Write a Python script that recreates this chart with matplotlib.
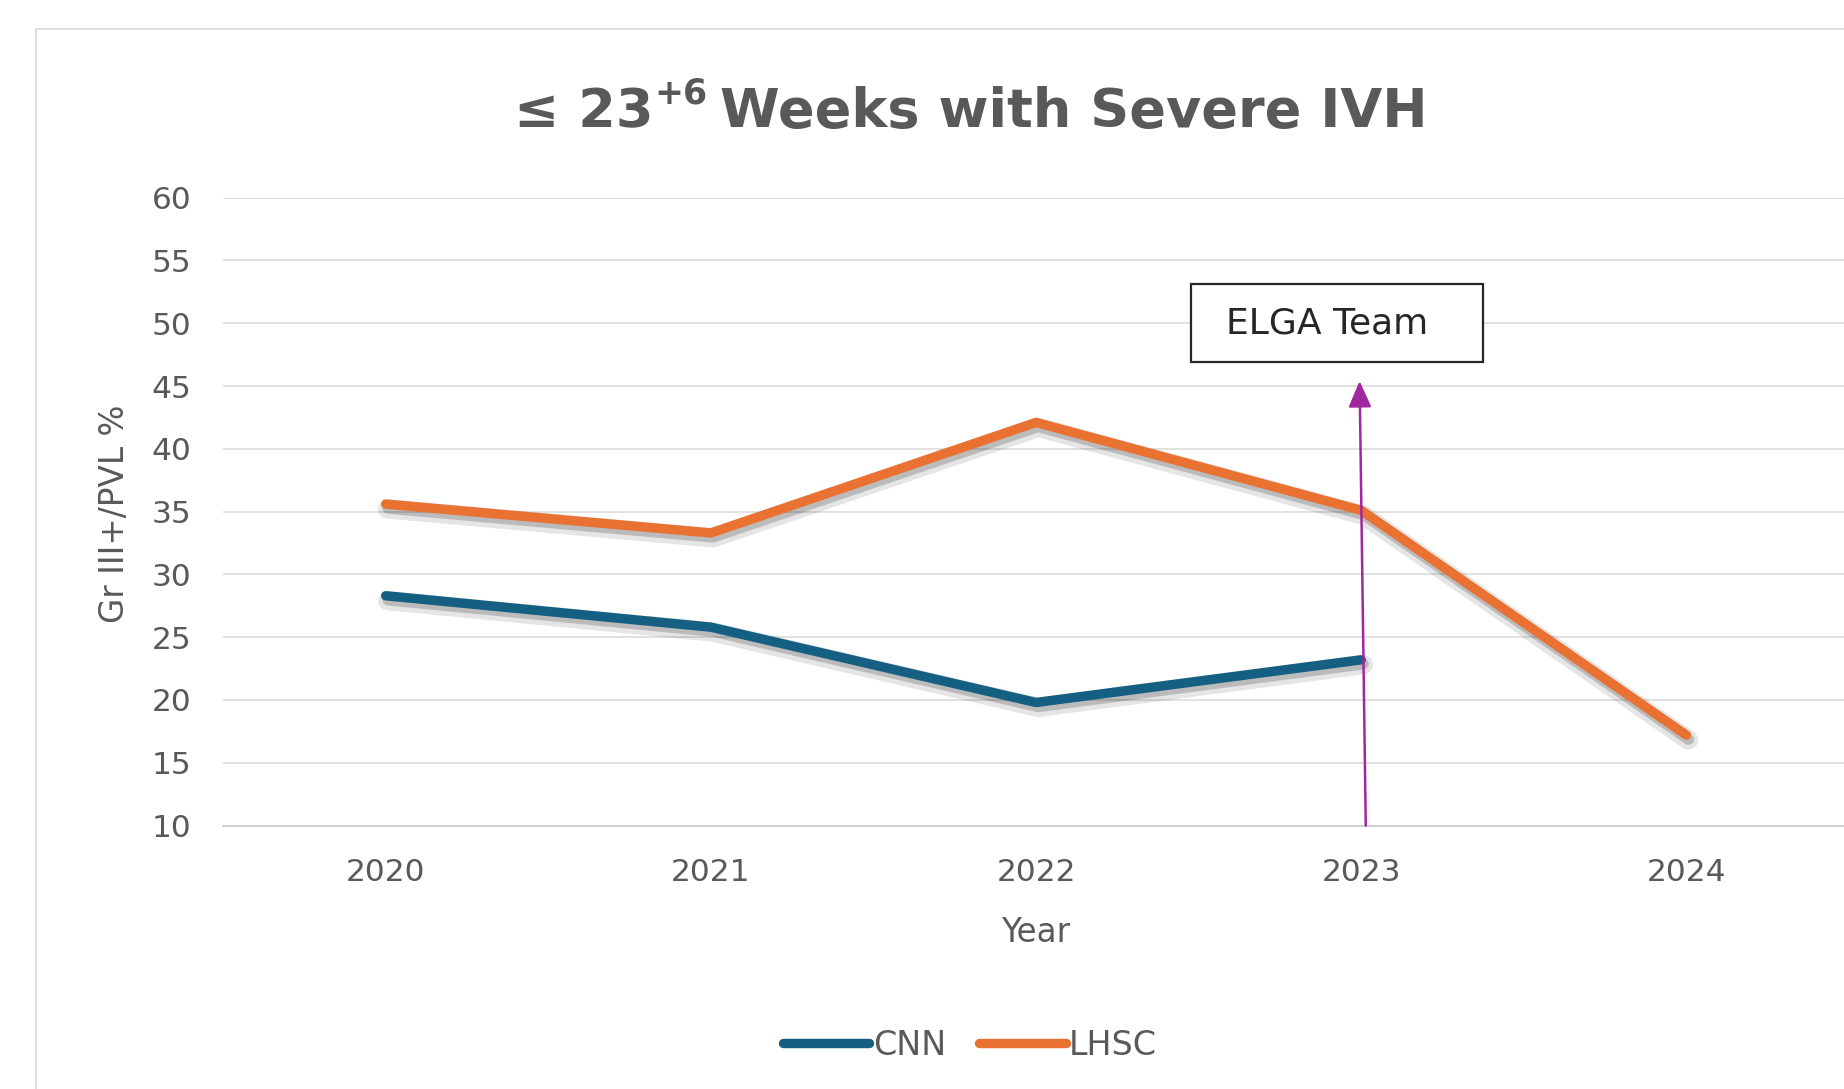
import matplotlib
matplotlib.use("Agg")
import matplotlib.pyplot as plt
import matplotlib.patheffects as pe
from matplotlib.patches import Rectangle

years = ["2020", "2021", "2022", "2023", "2024"]
cnn = [28.3, 25.8, 19.8, 23.2]
lhsc = [35.6, 33.3, 42.1, 35.1, 17.2]
yticks = [10, 15, 20, 25, 30, 35, 40, 45, 50, 55, 60]

TXT = "#595959"
CNN_C = "#156082"
LHSC_C = "#E97132"
GRID = "#D9D9D9"
ARROW_C = "#A0279D"

plt.rcParams["font.family"] = ["DejaVu Sans"]

fig = plt.figure(figsize=(18.44, 10.89), dpi=100)
fig.patch.set_facecolor("white")

# outer chart frame
fig.patches.append(Rectangle((0.0195, -0.05), 1.2, 0.9734 + 0.05, transform=fig.transFigure,
                             fill=False, edgecolor=GRID, linewidth=1.2, zorder=0))

ax = fig.add_axes([0.121, 0.2419, 0.8817, 0.5766])
ax.set_facecolor("none")
x = list(range(len(years)))

shadow = [pe.SimpleLineShadow(offset=(1.5, -3.5), shadow_color="black", alpha=0.10, linewidth=14),
          pe.SimpleLineShadow(offset=(1.5, -3), shadow_color="black", alpha=0.18, linewidth=8),
          pe.Normal()]

ax.plot(x[:len(cnn)], cnn, color=CNN_C, lw=6.8, solid_capstyle="round", solid_joinstyle="round",
        label="CNN", path_effects=shadow, zorder=3)
ax.plot(x[:len(lhsc)], lhsc, color=LHSC_C, lw=6.8, solid_capstyle="round", solid_joinstyle="round",
        label="LHSC", path_effects=shadow, zorder=3)

ax.set_xlim(-0.5, 4.5)
ax.set_ylim(10, 60)
ax.set_xticks(x)
ax.set_xticklabels(years)
ax.set_yticks(yticks)
ax.tick_params(axis="both", length=0, labelsize=22.5, labelcolor=TXT)
ax.tick_params(axis="y", pad=23)
ax.tick_params(axis="x", pad=23)
ax.grid(axis="y", color=GRID, linewidth=1.1)
ax.set_axisbelow(True)
for s in ["top", "right", "left"]:
    ax.spines[s].set_visible(False)
ax.spines["bottom"].set_color("#CFCFCF")
ax.spines["bottom"].set_linewidth(1.4)

ax.set_xlabel("Year", fontsize=23.5, color=TXT)
ax.xaxis.set_label_coords(0.5, -0.171)
ax.xaxis.label.set_va("center")
ax.set_ylabel("Gr III+/PVL %", fontsize=23.5, color=TXT)
ax.yaxis.set_label_coords(-0.067, 0.496)
ax.yaxis.label.set_va("center")

# ELGA annotation box and arrow
ax.add_patch(Rectangle((2.477, 46.9), 0.896, 6.2, fill=True, facecolor="white",
                       edgecolor="#262626", linewidth=1.6, zorder=4, clip_on=False))
ax.text(2.896, 50.0, "ELGA Team", fontsize=26, color="#262626", ha="center", va="center", zorder=5)
ax.annotate("", xy=(2.995, 45.4), xytext=(3.014, 10.0),
            arrowprops=dict(arrowstyle="-|>,head_length=0.8,head_width=0.35", color=ARROW_C,
                            lw=1.8, mutation_scale=20, shrinkA=0, shrinkB=0), zorder=6)

# legend
leg = fig.legend(loc="center", bbox_to_anchor=(0.526, 0.0404), ncol=2, frameon=False,
                 fontsize=24, handlelength=2.6, handletextpad=0.1, columnspacing=1.0)
for t in leg.get_texts():
    t.set_color(TXT)
for h in leg.get_lines():
    h.set_linewidth(6.8)
    h.set_path_effects([])

# title with superscript
fig.canvas.draw()
r = fig.canvas.get_renderer()
ty = 0.8834
t1 = fig.text(0.2787, ty, "\u2264 23", fontsize=39, fontweight="bold", color=TXT, va="baseline", ha="left")
bb1 = t1.get_window_extent(r)
t2 = fig.text(bb1.x1 / fig.bbox.width + 0.0005, ty + 0.022, "+6", fontsize=25, fontweight="bold",
              color=TXT, va="baseline", ha="left")
bb2 = t2.get_window_extent(r)
t3 = fig.text(bb2.x1 / fig.bbox.width + 0.0065, ty, "Weeks with Severe IVH", fontsize=39,
              fontweight="bold", color=TXT, va="baseline", ha="left")

fig.savefig("out.png", dpi=100, facecolor="white")
